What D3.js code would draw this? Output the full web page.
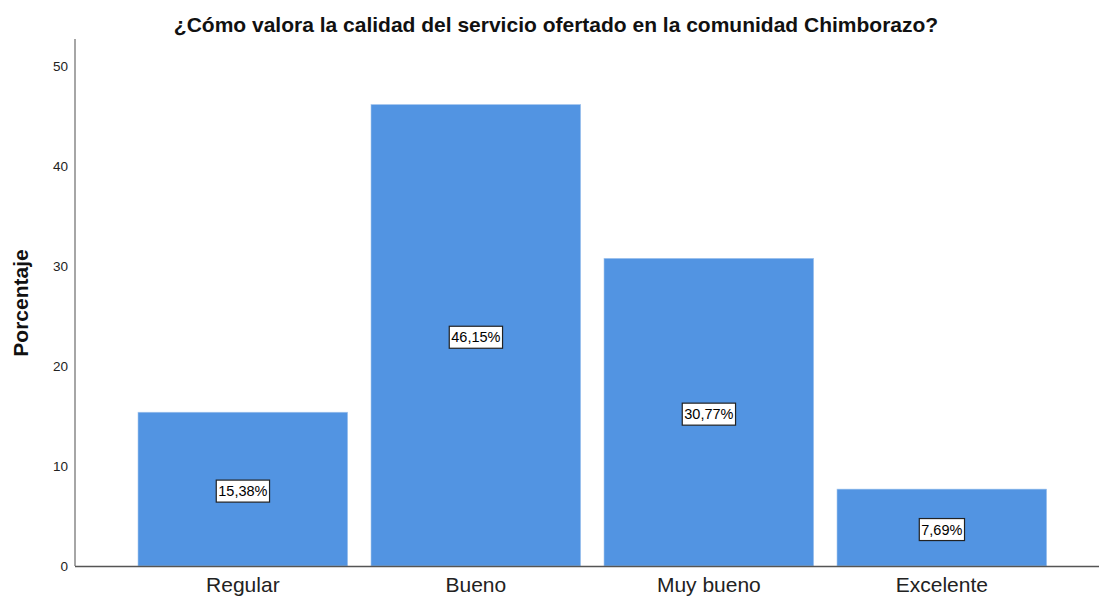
<!DOCTYPE html>
<html><head><meta charset="utf-8">
<script src="https://cdn.jsdelivr.net/npm/d3@7"></script>
<style>body{margin:0;background:#fff}svg{display:block}</style>
</head><body>
<script>
const categories = ["Regular", "Bueno", "Muy bueno", "Excelente"];
const values = [15.38, 46.15, 30.77, 7.69];
const valueLabels = ["15,38%", "46,15%", "30,77%", "7,69%"];
const yTicks = [0, 10, 20, 30, 40, 50];
const title = "¿Cómo valora la calidad del servicio ofertado en la comunidad Chimborazo?";
const yTitle = "Porcentaje";

(function () {
const W = 1099, H = 598;
const mLeft = 75, mRight = 1099, mTop = 39, mBottom = 566;
const FONT = "Arial, 'Liberation Sans', sans-serif";
const svg = d3.select("body").append("svg").attr("width", W).attr("height", H);

const x = d3.scaleBand().domain(categories).range([126.35, 126.35 + 233 * 4]).paddingInner(0.1).paddingOuter(0.05);
const y = d3.scaleLinear().domain([0, 50]).range([mBottom, mBottom - 500]);

// bars
svg.selectAll("rect.bar").data(values).join("rect")
  .attr("class", "bar")
  .attr("x", (d, i) => x(categories[i]))
  .attr("width", x.bandwidth())
  .attr("y", d => y(d))
  .attr("height", d => y(0) - y(d))
  .attr("fill", "#5294e2")
  .attr("stroke", "#a9c8ee").attr("stroke-width", 0.6);

// y axis
const yAxis = d3.axisLeft(y).tickValues(yTicks).tickSize(0).tickPadding(7);
const gy = svg.append("g").attr("transform", `translate(${mLeft},0)`).call(yAxis);
gy.select(".domain").remove();
gy.selectAll("text").attr("font-family", FONT).attr("font-size", 13.5).attr("fill", "#222");
svg.append("line").attr("x1", mLeft).attr("x2", mLeft).attr("y1", mTop).attr("y2", mBottom)
  .attr("stroke", "#888").attr("stroke-width", 1.5);

// x axis
const xAxis = d3.axisBottom(x).tickSize(0).tickPadding(11);
const gx = svg.append("g").attr("transform", `translate(0,${mBottom})`).call(xAxis);
gx.select(".domain").remove();
gx.selectAll("text").attr("font-family", FONT).attr("font-size", 21).attr("fill", "#222");
svg.append("line").attr("x1", mLeft).attr("x2", mRight).attr("y1", mBottom + 0.5).attr("y2", mBottom + 0.5)
  .attr("stroke", "#555").attr("stroke-width", 1.5);

// value labels
const lg = svg.append("g");
values.forEach((v, i) => {
  const cx = x(categories[i]) + x.bandwidth() / 2;
  const cy = y(v / 2) + 2;
  const t = lg.append("text").attr("x", cx).attr("y", cy)
    .attr("text-anchor", "middle").attr("dominant-baseline", "central")
    .attr("font-family", FONT).attr("font-size", 14.5).attr("fill", "#000")
    .text(valueLabels[i]);
  const bb = t.node().getBBox();
  lg.insert("rect", "text").attr("x", bb.x - 2).attr("y", cy - 11).attr("width", bb.width + 4).attr("height", 22)
    .attr("fill", "#fff").attr("stroke", "#222").attr("stroke-width", 1.2);
});

// titles
svg.append("text").attr("x", 556).attr("y", 32).attr("text-anchor", "middle")
  .attr("font-family", FONT).attr("font-size", 21).attr("font-weight", "bold").attr("fill", "#111")
  .text(title);
svg.append("text").attr("transform", "translate(28,303) rotate(-90)").attr("text-anchor", "middle")
  .attr("font-family", FONT).attr("font-size", 21).attr("font-weight", "bold").attr("fill", "#111")
  .text(yTitle);
})();
</script>
</body></html>
